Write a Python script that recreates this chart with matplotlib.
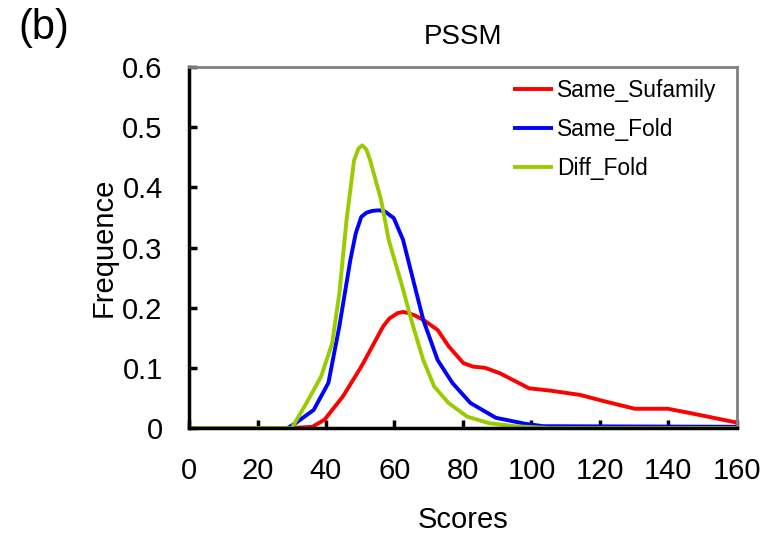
import matplotlib
matplotlib.use("Agg")
import matplotlib.pyplot as plt

plt.rcParams['font.family'] = ['Liberation Sans', 'DejaVu Sans']

sub_x = [0, 20, 30, 36, 39.6, 45, 50.3, 56.7, 58.5, 60.9, 62.5, 64.2, 66, 68.4, 72.6, 75.8, 80.1,
         83, 86.5, 90.8, 99.3, 105.7, 114.2, 121.6, 130.2, 139.8, 146.2, 160]
sub_y = [0, 0, 0, 0.002, 0.014, 0.053, 0.102, 0.169, 0.182, 0.191, 0.193, 0.191, 0.187, 0.180,
         0.163, 0.136, 0.108, 0.102, 0.100, 0.091, 0.066, 0.062, 0.055, 0.044, 0.032, 0.032,
         0.025, 0.009]

fold_x = [0, 20.5, 27.9, 31.1, 36.4, 40.7, 43.9, 47.1, 48.7, 50.3, 51.8, 53.5, 55.5, 57.2, 59.8,
          62.5, 65.2, 68.4, 72.6, 76.9, 82.2, 89.6, 98.2, 103.5, 160]
fold_y = [0, 0, -0.003, 0.008, 0.030, 0.075, 0.169, 0.279, 0.324, 0.351, 0.358, 0.361, 0.362,
          0.360, 0.349, 0.313, 0.252, 0.180, 0.113, 0.075, 0.0415, 0.017, 0.007, 0.003, 0.002]

diff_x = [0, 20, 30.0, 34.3, 38.6, 41.8, 43.9, 46.0, 48.2, 49.5, 50.6, 51.8, 52.9, 56.1, 58.3,
          62.0, 65.2, 68.4, 71.6, 75.8, 81.2, 87.6, 95, 105, 160]
diff_y = [0, 0, 0, 0.0415, 0.086, 0.141, 0.224, 0.346, 0.445, 0.465, 0.470, 0.463, 0.445, 0.379,
          0.313, 0.241, 0.174, 0.113, 0.069, 0.0415, 0.019, 0.008, 0.003, 0, 0]

series_names = ["Same_Sufamily", "Same_Fold", "Diff_Fold"]
series_colors = ["#FF0000", "#0000FF", "#99CC00"]

x_ticks = [0, 20, 40, 60, 80, 100, 120, 140, 160]
y_ticks = [0, 0.1, 0.2, 0.3, 0.4, 0.5, 0.6]
y_tick_labels = ["0", "0.1", "0.2", "0.3", "0.4", "0.5", "0.6"]

fig = plt.figure(figsize=(7.7, 5.33), dpi=100)
ax = fig.add_axes([0.2455, 0.197, 0.957 - 0.2455, 0.874 - 0.197])

for (xs, ys), name, col in zip([(sub_x, sub_y), (fold_x, fold_y), (diff_x, diff_y)],
                               series_names, series_colors):
    ax.plot(xs, ys, color=col, lw=2.8, label=name, solid_joinstyle='round',
            solid_capstyle='butt')

ax.set_xlim(0, 160)
ax.set_ylim(0, 0.6)
ax.set_xticks(x_ticks)
ax.set_yticks(y_ticks)
ax.set_yticklabels(y_tick_labels)
ax.tick_params(axis='both', direction='in', length=6, width=2.5, color='black')
ax.tick_params(axis='x', labelsize=21, pad=21)
ax.tick_params(axis='y', labelsize=21, pad=19)

for s in ['left', 'bottom']:
    ax.spines[s].set_color('black')
    ax.spines[s].set_linewidth(2.5)
for s in ['top', 'right']:
    ax.spines[s].set_color('#808080')
    ax.spines[s].set_linewidth(2)

ax.set_xlabel("Scores", fontsize=21, labelpad=15)
ax.set_ylabel("Frequence", fontsize=21, labelpad=3)
ax.set_title("PSSM", fontsize=20, pad=17)

leg = ax.legend(loc='upper left', frameon=False, fontsize=16.4, handlelength=1.75,
                handletextpad=0.2, labelspacing=0.7, borderpad=0, borderaxespad=0,
                bbox_to_anchor=(0.591, 0.967))

fig.text(0.024, 0.985, "(b)", fontsize=30, va='top', ha='left')

fig.savefig("out.png", dpi=100)
